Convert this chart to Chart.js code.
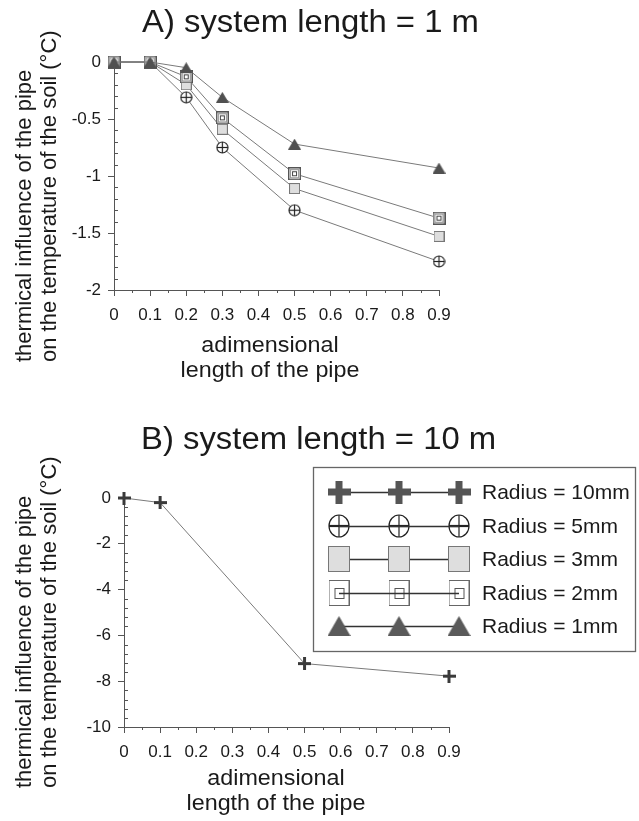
<!DOCTYPE html>
<html><head><meta charset="utf-8">
<script src="https://cdn.jsdelivr.net/npm/chart.js@4.4.1/dist/chart.umd.min.js"></script>
<style>
html,body{margin:0;padding:0;background:#fff;}
#wrap{position:relative;width:639px;height:821px;overflow:hidden;background:#fff;}
#cA{position:absolute;left:0;top:0;}
#cB{position:absolute;left:0;top:400px;}
</style></head><body>
<div id="wrap">
<canvas id="cA" width="639" height="400"></canvas>
<canvas id="cB" width="639" height="421"></canvas>
</div>
<script>
// ---------- data ----------
const xA = [0, 0.1, 0.2, 0.3, 0.5, 0.9];
const r1A = [0, 0, -0.05, -0.31, -0.72, -0.93];
const r2A = [0, 0, -0.13, -0.49, -0.98, -1.37];
const r3A = [0, 0, -0.20, -0.59, -1.11, -1.53];
const r5A = [0, 0, -0.31, -0.75, -1.30, -1.75];
const xB = [0, 0.1, 0.5, 0.9];
const r10B = [0, -0.2, -7.23, -7.78];

const xTicks = [0, 0.1, 0.2, 0.3, 0.4, 0.5, 0.6, 0.7, 0.8, 0.9];
const xTickLabels = ['0', '0.1', '0.2', '0.3', '0.4', '0.5', '0.6', '0.7', '0.8', '0.9'];
const yTicksA = [0, -0.5, -1, -1.5, -2];
const yTickLabelsA = ['0', '-0.5', '-1', '-1.5', '-2'];
const yTicksB = [0, -2, -4, -6, -8, -10];
const yTickLabelsB = ['0', '-2', '-4', '-6', '-8', '-10'];

const titleA = 'A) system length = 1 m';
const titleB = 'B) system length = 10 m';
const xTitle = ['adimensional', 'length of the pipe'];
const yTitle = ['thermical influence of the pipe', 'on the temperature of the soil (°C)'];
const legendLabels = ['Radius = 10mm', 'Radius = 5mm', 'Radius = 3mm', 'Radius = 2mm', 'Radius = 1mm'];

// ---------- markers ----------
const FONT = '"Liberation Sans", Arial, sans-serif';
const TXT = '#1a1a1a';
function mk(w, h, draw) {
  const c = document.createElement('canvas'); c.width = w; c.height = h;
  draw(c.getContext('2d'), w, h); return c;
}
function mPlus(s, t, col) {
  return mk(s, s, (g) => { const a = Math.round((s - t) / 2); g.fillStyle = col; g.fillRect(a, 0, t, s); g.fillRect(0, a, s, t); });
}
function mCirclePlus(w, h, lw, hw) {
  return mk(w, h, (g) => {
    g.beginPath(); g.ellipse(w / 2, h / 2, w / 2 - 1, h / 2 - 1, 0, 0, Math.PI * 2);
    g.fillStyle = '#fff'; g.fill(); g.strokeStyle = '#222'; g.lineWidth = lw; g.stroke();
    g.beginPath(); g.moveTo(w / 2, 1); g.lineTo(w / 2, h - 1); g.lineWidth = lw; g.stroke();
    g.beginPath(); g.moveTo(1, h / 2); g.lineTo(w - 1, h / 2); g.lineWidth = hw; g.stroke();
  });
}
function mSquareLight(w, h) {
  return mk(w, h, (g) => { g.fillStyle = '#dedede'; g.fillRect(0, 0, w, h); g.strokeStyle = '#777'; g.lineWidth = 1; g.strokeRect(0.5, 0.5, w - 1, h - 1); });
}
function mSquareDouble(w, h, iw, ih, outerCol) {
  return mk(w, h, (g) => {
    g.fillStyle = '#fff'; g.fillRect(0, 0, w, h);
    g.strokeStyle = outerCol; g.lineWidth = 1; g.strokeRect(0.5, 0.5, w - 1, h - 1);
    const x0 = Math.round((w - iw) / 2) + 0.5, y0 = Math.round((h - ih) / 2) + 0.5;
    g.strokeStyle = '#555'; g.strokeRect(x0, y0, iw, ih);
  });
}
function mTriangle(w, h, col) {
  return mk(w, h, (g) => { g.beginPath(); g.moveTo(w / 2, 0); g.lineTo(w, h); g.lineTo(0, h); g.closePath(); g.fillStyle = col; g.fill(); });
}
// chart-size markers
const ptPlus = mPlus(13, 3, '#3a3a3a');
const ptCircle = mCirclePlus(13, 13, 1.2, 1.2);
const ptSqLight = mSquareLight(11, 11);
const ptSqDouble = mk(13, 13, (g) => {
  g.fillStyle = '#fff'; g.fillRect(0, 0, 13, 13);
  g.strokeStyle = '#555'; g.lineWidth = 1.4; g.strokeRect(0.7, 0.7, 11.6, 11.6);
  g.strokeStyle = '#999'; g.lineWidth = 1; g.strokeRect(2.5, 2.5, 8, 8);
  g.strokeStyle = '#444'; g.strokeRect(4.5, 4.5, 4, 4);
});
const ptTri = mTriangle(13, 11, '#505050');
// legend-size markers
const lgPlus = mPlus(23, 7, '#555');
const lgCircle = mCirclePlus(22, 24, 1.2, 2.2);
const lgSqLight = mSquareLight(22, 26);
const lgSqDouble = mSquareDouble(21, 26, 9, 10, '#666');
const lgTri = mTriangle(23, 20, '#5a5a5a');

// ---------- plugin: titles, minor ticks, legend ----------
function stretchText(ctx, text, x, y, sx) {
  ctx.save(); ctx.translate(x, y); ctx.scale(sx, 1); ctx.fillText(text, 0, 0); ctx.restore();
}
const deco = {
  id: 'deco',
  afterDraw(chart, args, o) {
    const ctx = chart.ctx, xs = chart.scales.x, ys = chart.scales.y;
    ctx.save();
    // minor ticks
    ctx.strokeStyle = '#555'; ctx.lineWidth = 1;
    for (let k = 1; k < 18; k += 2) {
      const px = Math.round(xs.getPixelForValue(k * 0.05)) + 0.5;
      ctx.beginPath(); ctx.moveTo(px, ys.bottom); ctx.lineTo(px, ys.bottom + 3); ctx.stroke();
    }
    for (let k = 1; k < o.yMinorCount; k++) {
      if (k % 5 === 0) continue;
      const py = Math.round(ys.getPixelForValue(-k * o.yMinor)) + 0.5;
      ctx.beginPath(); ctx.moveTo(xs.left, py); ctx.lineTo(xs.left + 4, py); ctx.stroke();
    }
    // chart title
    ctx.fillStyle = TXT; ctx.font = '31px ' + FONT; ctx.textAlign = 'left'; ctx.textBaseline = 'alphabetic';
    stretchText(ctx, o.title, o.titleX, o.titleY, 1.06);
    // x axis title
    ctx.font = '22px ' + FONT; ctx.textAlign = 'center';
    stretchText(ctx, xTitle[0], o.xtX, o.xtY, 1.06);
    stretchText(ctx, xTitle[1], o.xtX, o.xtY + 25, 1.06);
    // y axis title
    ctx.textAlign = 'left';
    ctx.save(); ctx.translate(31, o.ytY); ctx.rotate(-Math.PI / 2); ctx.fillText(yTitle[0], 0, 0); ctx.restore();
    ctx.save(); ctx.translate(56, o.ytY); ctx.rotate(-Math.PI / 2); ctx.fillText(yTitle[1], 0, 0); ctx.restore();
    // legend
    if (o.legend) {
      ctx.strokeStyle = '#666'; ctx.lineWidth = 1.3;
      ctx.strokeRect(313.5, 67.5, 322, 184);
      const rows = [92, 126, 159, 193, 226];
      const mks = [lgPlus, lgCircle, lgSqLight, lgSqDouble, lgTri];
      const lineOnTop = [false, true, false, true, false];
      const xsM = [339, 399, 459];
      rows.forEach((ry, i) => {
        const drawLine = () => { ctx.beginPath(); ctx.strokeStyle = '#333'; ctx.lineWidth = 1.3; ctx.moveTo(339, ry + 0.5); ctx.lineTo(459, ry + 0.5); ctx.stroke(); };
        if (!lineOnTop[i]) drawLine();
        xsM.forEach(mx => Chart.helpers.drawPoint(ctx, { pointStyle: mks[i], radius: 10, rotation: 0 }, mx, ry));
        if (lineOnTop[i]) drawLine();
        ctx.fillStyle = TXT; ctx.font = '21px ' + FONT; ctx.textAlign = 'left'; ctx.textBaseline = 'middle';
        ctx.fillText(legendLabels[i], 482, ry + 1);
      });
    }
    ctx.restore();
  }
};

function pts(xv, yv) { return xv.map((x, i) => ({ x: x, y: yv[i] })); }
function ds(label, xv, yv, style) {
  return { label: label, data: pts(xv, yv), borderColor: '#7a7a7a', borderWidth: 1, tension: 0, fill: false,
    pointStyle: style, pointRadius: 6, pointHoverRadius: 6, clip: false };
}
function scales(yMin, yTicks, yLabels) {
  const common = {
    grid: { display: true, drawOnChartArea: false, drawTicks: true, tickLength: 6, color: '#555', tickColor: '#555' },
    border: { display: true, color: '#555', width: 1 }
  };
  return {
    x: Object.assign({}, common, {
      type: 'linear', min: 0, max: 0.9,
      afterBuildTicks: s => { s.ticks = xTicks.map(v => ({ value: v })); },
      afterFit: s => { s.height = 40; s.paddingLeft = 0; s.paddingRight = 0; },
      ticks: { callback: (v, i) => xTickLabels[i], font: { size: 17, family: FONT }, color: TXT, padding: 9, maxRotation: 0, autoSkip: false }
    }),
    y: Object.assign({}, common, {
      type: 'linear', min: yMin, max: 0,
      afterBuildTicks: s => { s.ticks = yTicks.map(v => ({ value: v })); },
      afterFit: s => { s.width = s.options.fixedWidth; s.paddingTop = 0; s.paddingBottom = 0; },
      ticks: { callback: (v, i) => yLabels[i], font: { size: 17, family: FONT }, color: TXT, padding: 7, autoSkip: false }
    })
  };
}
const base = { responsive: false, animation: false, devicePixelRatio: 1, events: [],
  plugins: { legend: { display: false }, tooltip: { enabled: false }, title: { display: false } } };

// ---------- chart A ----------
const scA = scales(-2, yTicksA, yTickLabelsA); scA.y.fixedWidth = 114;
new Chart(document.getElementById('cA'), {
  type: 'line',
  data: { datasets: [
    ds('Radius = 1mm', xA, r1A, ptTri),
    ds('Radius = 2mm', xA, r2A, ptSqDouble),
    ds('Radius = 3mm', xA, r3A, ptSqLight),
    ds('Radius = 5mm', xA, r5A, ptCircle)
  ] },
  options: Object.assign({}, base, {
    layout: { padding: { top: 62, left: 0, right: 200, bottom: 70 } },
    scales: scA,
    plugins: Object.assign({}, base.plugins, { deco: { title: titleA, titleX: 142, titleY: 32, xtX: 270, xtY: 352, ytY: 362, yMinor: 0.1, yMinorCount: 20, legend: false } })
  }),
  plugins: [deco]
});

// ---------- chart B ----------
const scB = scales(-10, yTicksB, yTickLabelsB); scB.y.fixedWidth = 124;
new Chart(document.getElementById('cB'), {
  type: 'line',
  data: { datasets: [ ds('Radius = 10mm', xB, r10B, ptPlus) ] },
  options: Object.assign({}, base, {
    layout: { padding: { top: 98, left: 0, right: 190, bottom: 54 } },
    scales: scB,
    plugins: Object.assign({}, base.plugins, { deco: { title: titleB, titleX: 141, titleY: 49, xtX: 276, xtY: 385, ytY: 388, yMinor: 0.4, yMinorCount: 25, legend: true } })
  }),
  plugins: [deco]
});
</script>
</body></html>
